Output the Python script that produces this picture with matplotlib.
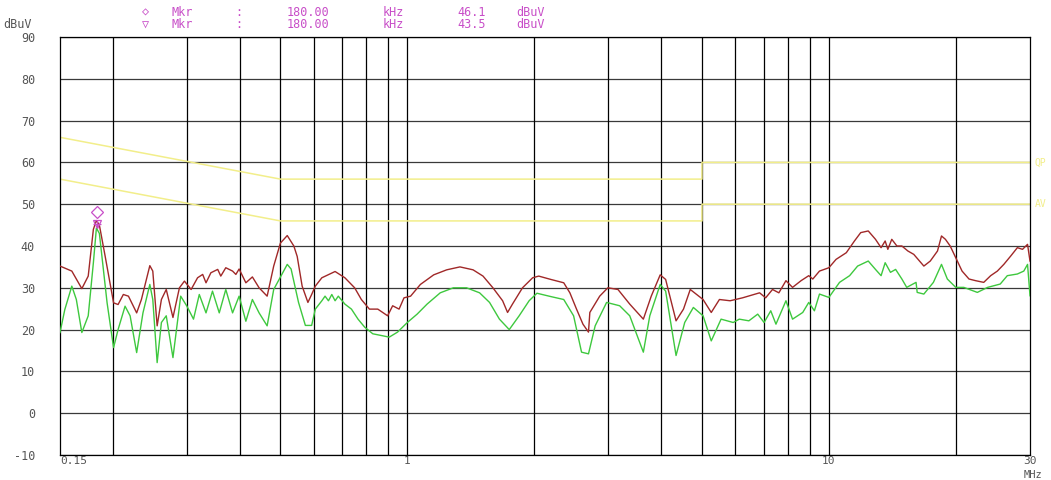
import matplotlib
matplotlib.use("Agg")
import matplotlib.pyplot as plt
from matplotlib.transforms import offset_copy

# ---------------- data ----------------
peak_f = [0.150, 0.160, 0.169, 0.175, 0.180, 0.183, 0.186, 0.192, 0.201, 0.206,
          0.212, 0.218, 0.228, 0.234, 0.245, 0.249, 0.255, 0.261, 0.268, 0.278,
          0.288, 0.296, 0.307, 0.318, 0.327, 0.333, 0.342, 0.355, 0.361, 0.371,
          0.385, 0.392, 0.399, 0.414, 0.429, 0.445, 0.465, 0.482, 0.500, 0.519,
          0.538, 0.548, 0.563, 0.581, 0.593, 0.605, 0.627, 0.674, 0.711, 0.750,
          0.778, 0.813, 0.851, 0.898, 0.923, 0.956, 0.982, 1.018, 1.074, 1.155,
          1.240, 1.333, 1.432, 1.512, 1.596, 1.683, 1.729, 1.776, 1.876, 1.983,
          2.05, 2.19, 2.35, 2.43, 2.52, 2.61, 2.69, 2.71, 2.86, 2.99,
          3.16, 3.37, 3.63, 3.79, 3.98, 4.10, 4.34, 4.52, 4.69, 5.03,
          5.26, 5.50, 5.83, 6.24, 6.85, 7.08, 7.35, 7.61, 7.91, 8.20,
          8.59, 8.96, 9.16, 9.50, 10.0, 10.4, 11.0, 11.5, 11.9, 12.4,
          12.9, 13.3, 13.6, 13.8, 14.1, 14.5, 14.9, 15.4, 15.9, 16.8,
          17.4, 18.1, 18.5, 18.9, 19.4, 20.0, 20.7, 21.5, 22.3, 23.3,
          24.2, 25.1, 26.0, 27.0, 28.0, 28.8, 29.6, 30.0]
peak_db = [35.2, 34.0, 29.8, 32.8, 44.0, 46.1, 45.0, 37.5, 26.4, 26.0,
           28.4, 28.0, 24.0, 27.2, 35.3, 34.0, 20.9, 27.2, 29.6, 22.9,
           30.0, 31.6, 29.6, 32.4, 33.2, 31.2, 33.6, 34.4, 32.8, 34.8,
           34.0, 33.2, 34.5, 31.2, 32.6, 30.0, 28.0, 35.2, 40.7, 42.5,
           40.0, 37.5, 30.4, 26.5, 28.4, 30.4, 32.4, 33.9, 32.4, 30.0,
           27.2, 24.9, 24.9, 23.3, 25.7, 24.9, 27.6, 28.0, 30.8, 33.1,
           34.3, 35.0, 34.3, 32.8, 30.0, 26.9, 24.1, 26.1, 30.0, 32.4,
           32.8, 32.0, 31.2, 28.8, 24.9, 21.3, 19.4, 24.1, 28.0, 30.0,
           29.6, 26.1, 22.5, 28.0, 33.1, 32.0, 22.1, 24.9, 29.6, 27.2,
           24.1, 27.2, 26.9, 27.6, 28.8, 27.6, 29.6, 28.8, 31.7, 30.1,
           31.7, 32.9, 32.1, 34.0, 34.8, 36.8, 38.4, 41.2, 43.2, 43.6,
           41.6, 39.6, 41.2, 39.2, 41.6, 40.0, 40.0, 38.8, 38.0, 35.2,
           36.4, 38.8, 42.4, 41.6, 40.0, 37.2, 34.0, 32.1, 31.7, 31.3,
           32.9, 34.0, 35.6, 37.6, 39.6, 39.2, 40.4, 36.4]

avg_f = [0.150, 0.154, 0.160, 0.164, 0.169, 0.175, 0.180, 0.183, 0.186, 0.194,
         0.201, 0.206, 0.214, 0.220, 0.228, 0.236, 0.245, 0.249, 0.255, 0.261,
         0.268, 0.278, 0.290, 0.300, 0.311, 0.321, 0.333, 0.345, 0.358, 0.371,
         0.385, 0.399, 0.414, 0.429, 0.445, 0.465, 0.482, 0.519, 0.530, 0.552,
         0.573, 0.593, 0.605, 0.627, 0.638, 0.650, 0.662, 0.674, 0.686, 0.711,
         0.737, 0.764, 0.792, 0.828, 0.866, 0.906, 0.948, 1.000, 1.055, 1.114,
         1.197, 1.286, 1.382, 1.484, 1.567, 1.654, 1.745, 1.842, 1.945, 2.03,
         2.19, 2.35, 2.48, 2.59, 2.69, 2.79, 2.97, 3.19, 3.37, 3.63,
         3.76, 3.98, 4.10, 4.34, 4.55, 4.77, 5.03, 5.26, 5.55, 5.93,
         6.13, 6.46, 6.78, 7.02, 7.28, 7.49, 7.91, 8.20, 8.67, 8.96,
         9.24, 9.50, 10.0, 10.6, 11.2, 11.7, 12.4, 12.9, 13.3, 13.6,
         14.0, 14.4, 14.9, 15.3, 16.1, 16.2, 16.8, 17.7, 18.5, 19.1,
         20.0, 20.9, 22.5, 23.8, 25.5, 26.5, 28.0, 29.0, 29.6, 30.0]
avg_db = [19.3, 24.8, 30.4, 27.2, 19.3, 23.3, 36.0, 44.3, 43.0, 26.4,
          15.7, 20.0, 25.6, 23.3, 14.5, 24.0, 30.8, 27.2, 12.1, 21.7,
          23.3, 13.3, 28.0, 25.6, 22.5, 28.4, 24.0, 29.2, 24.0, 29.6,
          24.0, 28.0, 22.0, 27.2, 24.0, 20.9, 29.6, 35.6, 34.5, 26.5,
          21.0, 21.0, 24.9, 26.9, 28.0, 26.9, 28.4, 26.9, 28.0, 26.1,
          24.9, 22.5, 20.6, 19.0, 18.6, 18.2, 19.4, 21.7, 23.7, 26.1,
          28.8, 30.0, 30.0, 28.8, 26.5, 22.5, 20.0, 23.3, 26.9, 28.7,
          27.9, 27.2, 23.3, 14.6, 14.2, 20.9, 26.5, 25.7, 23.3, 14.6,
          23.3, 30.8, 29.2, 13.8, 21.7, 25.3, 23.3, 17.3, 22.5, 21.7,
          22.5, 22.1, 23.7, 21.7, 24.5, 21.3, 26.9, 22.5, 24.1, 26.5,
          24.5, 28.5, 27.7, 31.3, 32.9, 35.2, 36.4, 34.4, 32.9, 36.0,
          33.7, 34.4, 32.1, 30.1, 31.3, 28.9, 28.5, 31.3, 35.6, 32.1,
          30.1, 30.1, 28.9, 30.1, 30.9, 32.9, 33.3, 34.0, 35.6, 28.1]

limit_f = [0.15, 0.5, 5.0, 5.0, 30.0]
limit_qp = [66, 56, 56, 60, 60]
limit_av = [56, 46, 46, 50, 50]

marker_f = 0.184
marker_peak = 46.1
marker_avg = 43.5

y_ticks = [-10, 0, 10, 20, 30, 40, 50, 60, 70, 80, 90]
x_grid = [0.2, 0.3, 0.4, 0.5, 0.6, 0.7, 0.8, 0.9, 1, 2, 3, 4, 5, 6, 7, 8, 9, 10, 20]
x_ticks = [0.15, 1, 10, 30]
x_labels = ["0.15", "1", "10", "30"]
x_unit = "MHz"

# ---------------- figure ----------------
RED = "#a02828"
GREEN = "#3ec83e"
YELLOW = "#f2ee8a"
MAG = "#c84ec8"
GRAY = "#555555"
FONT = "DejaVu Sans Mono"

plt.rcParams["font.family"] = [FONT, "DejaVu Sans"]

fig = plt.figure(figsize=(10.51, 4.80), dpi=100)
ax = fig.add_axes([60 / 1051, 25 / 480, 970 / 1051, 418 / 480])
ax.set_xscale("log")
ax.set_xlim(0.15, 30)
ax.set_ylim(-10, 90)

for v in y_ticks:
    ax.axhline(v, color="#3a3a3a", lw=0.9, zorder=1)
for f in x_grid:
    ax.axvline(f, color="black", lw=0.9, zorder=1)

ax.plot(limit_f, limit_qp, color=YELLOW, lw=1.1, zorder=2)
ax.plot(limit_f, limit_av, color=YELLOW, lw=1.1, zorder=2)
ax.plot(peak_f, peak_db, color=RED, lw=1.0, zorder=3)
ax.plot(avg_f, avg_db, color=GREEN, lw=1.0, zorder=4)

# markers drawn slightly above the trace values
t1 = offset_copy(ax.transData, fig=fig, x=0, y=6, units="points")
t2 = offset_copy(ax.transData, fig=fig, x=0, y=5, units="points")
ax.plot([marker_f], [marker_peak], marker="D", ms=6, mfc="none", mec=MAG,
        mew=0.9, transform=t1, zorder=5)
ax.plot([marker_f], [marker_avg], marker="v", ms=6, mfc="none", mec=MAG,
        mew=0.9, transform=t2, zorder=5)
ax.plot([marker_f], [marker_avg], marker="+", ms=6, mec=MAG,
        mew=0.9, transform=t2, zorder=5)

# limit labels at the right edge
ax.text(1.005, 60, "QP", transform=ax.get_yaxis_transform(), color=YELLOW,
        fontsize=7, va="center", ha="left", clip_on=False)
ax.text(1.005, 50, "AV", transform=ax.get_yaxis_transform(), color=YELLOW,
        fontsize=7, va="center", ha="left", clip_on=False)

for s in ax.spines.values():
    s.set_color("black")
    s.set_linewidth(0.9)

ax.set_yticks(y_ticks)
ax.set_yticklabels([str(v) for v in y_ticks])
ax.set_xticks(x_ticks)
ax.set_xticklabels(x_labels)
ax.minorticks_off()
ax.tick_params(axis="both", length=0, colors=GRAY, labelsize=8.5)
ax.tick_params(axis="y", pad=18)
ax.tick_params(axis="x", pad=1, labelsize=8)
ax.get_xticklabels()[0].set_horizontalalignment("left")

fig.text(1033 / 1051, 1 - 474.5 / 480, x_unit, color=GRAY, fontsize=7.5,
         va="center", ha="center")
fig.text(3 / 1051, 1 - 24 / 480, "dBuV", color=GRAY, fontsize=8.5, va="center", ha="left")

# header marker readout
rows = [("\u25C7", 12, "46.1"), ("\u25BD", 25, "43.5")]
for sym, ypx, val in rows:
    yy = 1 - ypx / 480
    fig.text(146 / 1051, yy, sym, color=MAG, fontsize=8.5, va="center", ha="center")
    fig.text(171 / 1051, yy, "Mkr", color=MAG, fontsize=8.5, va="center", ha="left")
    fig.text(235 / 1051, yy, ":", color=MAG, fontsize=8.5, va="center", ha="left")
    fig.text(287 / 1051, yy, "180.00", color=MAG, fontsize=8.5, va="center", ha="left")
    fig.text(383 / 1051, yy, "kHz", color=MAG, fontsize=8.5, va="center", ha="left")
    fig.text(457 / 1051, yy, val, color=MAG, fontsize=8.5, va="center", ha="left")
    fig.text(516 / 1051, yy, "dBuV", color=MAG, fontsize=8.5, va="center", ha="left")

fig.savefig("out.png", dpi=100, facecolor="white")
